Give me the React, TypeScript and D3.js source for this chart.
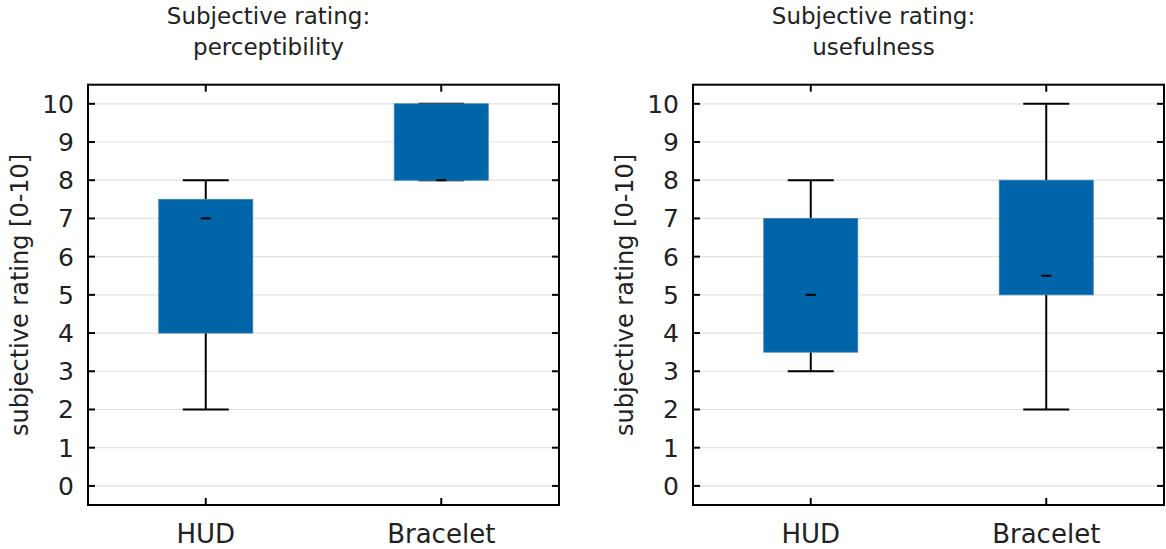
import React from "react";
import * as d3 from "d3";

const categories = ["HUD", "Bracelet"];
const panelTitles = [["Subjective rating:", "perceptibility"], ["Subjective rating:", "usefulness"]];
const yTicks = [0, 1, 2, 3, 4, 5, 6, 7, 8, 9, 10];
const yLabel = "subjective rating [0-10]";
// [whiskerLow, q1, median, q3, whiskerHigh] per category
const perceptibility = [
  [2, 4, 7, 7.5, 8],
  [8, 8, 8, 10, 10],
];
const usefulness = [
  [3, 3.5, 5, 7, 8],
  [2, 5, 5.5, 8, 10],
];
const panelData = [perceptibility, usefulness];

const W = 1166;
const H = 549;
const FONT = "'DejaVu Sans', sans-serif";
const BOX_COLOR = "#0064a8";

function Panel({ left, data, title }: { left: number; data: number[][]; title: string[] }) {
  const pw = 471;
  const top = 84.7;
  const bottom = 505;
  const x = d3.scaleLinear().domain([0.5, 2.5]).range([left, left + pw]);
  const y = d3.scaleLinear().domain([-0.5, 10.5]).range([bottom, top]);
  const boxW = 94;
  const capW = 46;
  const medW = 10;
  const tickLen = 7;
  const titleX = left + pw / 2 - 55;
  return (
    <g>
      <text x={titleX} y={24} textAnchor="middle" fontFamily={FONT} fontSize={23} fill="#222">{title[0]}</text>
      <text x={titleX} y={55} textAnchor="middle" fontFamily={FONT} fontSize={23} fill="#222">{title[1]}</text>
      {yTicks.map((t) => (
        <line key={"g" + t} x1={left} x2={left + pw} y1={y(t)} y2={y(t)} stroke="#e2e2e2" strokeWidth={1.2} />
      ))}
      {data.map((d, i) => {
        const cx = x(i + 1);
        return (
          <g key={"b" + i}>
            <line x1={cx} x2={cx} y1={y(d[0])} y2={y(d[1])} stroke="#000" strokeWidth={2} />
            <line x1={cx} x2={cx} y1={y(d[3])} y2={y(d[4])} stroke="#000" strokeWidth={2} />
            <line x1={cx - capW / 2} x2={cx + capW / 2} y1={y(d[0])} y2={y(d[0])} stroke="#000" strokeWidth={2} />
            <line x1={cx - capW / 2} x2={cx + capW / 2} y1={y(d[4])} y2={y(d[4])} stroke="#000" strokeWidth={2} />
            <rect x={cx - boxW / 2} y={y(d[3])} width={boxW} height={y(d[1]) - y(d[3])} fill={BOX_COLOR} stroke="#3a7fb8" strokeWidth={0.8} />
            <line x1={cx - medW / 2} x2={cx + medW / 2} y1={y(d[2])} y2={y(d[2])} stroke="#000" strokeWidth={2} />
          </g>
        );
      })}
      <rect x={left} y={top} width={pw} height={bottom - top} fill="none" stroke="#000" strokeWidth={2} />
      {yTicks.map((t) => (
        <g key={"t" + t}>
          <line x1={left} x2={left + tickLen} y1={y(t)} y2={y(t)} stroke="#000" strokeWidth={2} />
          <line x1={left + pw} x2={left + pw - tickLen} y1={y(t)} y2={y(t)} stroke="#000" strokeWidth={2} />
          <text x={left - 14} y={y(t)} dy="0.36em" textAnchor="end" fontFamily={FONT} fontSize={25} fill="#222">{t}</text>
        </g>
      ))}
      {categories.map((c, i) => (
        <g key={"c" + i}>
          <line x1={x(i + 1)} x2={x(i + 1)} y1={top} y2={top + tickLen} stroke="#000" strokeWidth={2} />
          <line x1={x(i + 1)} x2={x(i + 1)} y1={bottom} y2={bottom - tickLen} stroke="#000" strokeWidth={2} />
          <text x={x(i + 1)} y={543} textAnchor="middle" fontFamily={FONT} fontSize={26} fill="#222">{c}</text>
        </g>
      ))}
      <text transform={`translate(${left - 60},${(top + bottom) / 2}) rotate(-90)`} textAnchor="middle" fontFamily={FONT} fontSize={24} fill="#222">{yLabel}</text>
    </g>
  );
}

export default function App() {
  const lefts = [88, 693];
  return (
    <svg width={W} height={H} style={{ position: "absolute", left: 0, top: 0, background: "#fff" }}>
      <rect x={0} y={0} width={W} height={H} fill="#fff" />
      {panelData.map((d, i) => (
        <Panel key={i} left={lefts[i]} data={d} title={panelTitles[i]} />
      ))}
    </svg>
  );
}
